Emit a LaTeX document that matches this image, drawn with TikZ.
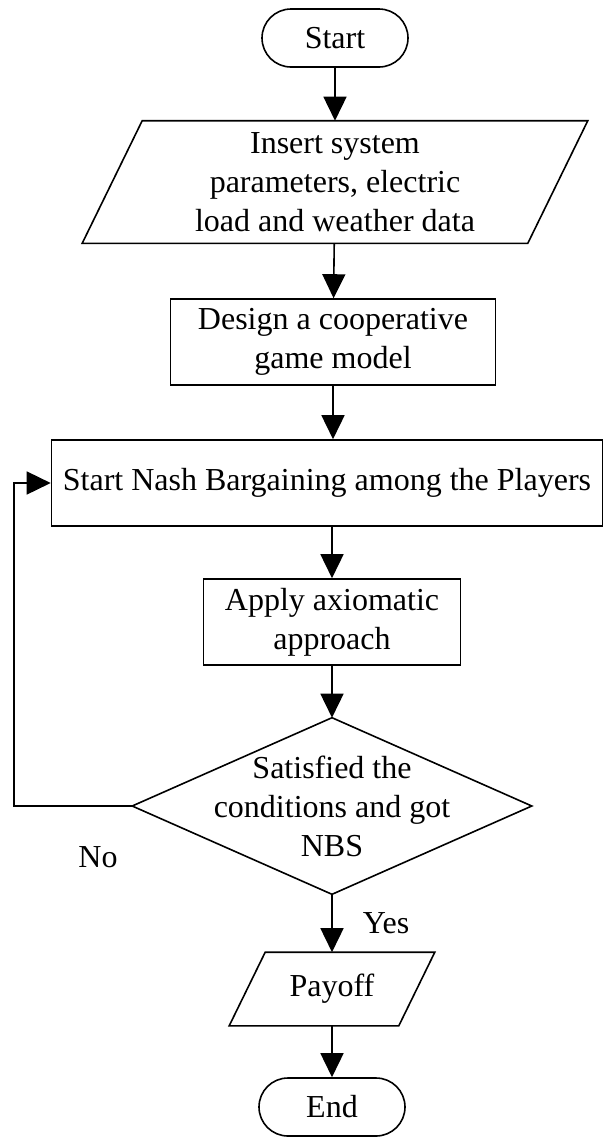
\documentclass[tikz,border=0pt]{standalone}
\usepackage{fontspec}
\setmainfont{Liberation Serif}
\usetikzlibrary{arrows.meta,calc}

\begin{document}
\begin{tikzpicture}[x=1pt, y=-1pt, line width=1.6pt,
  every node/.style={font=\fontsize{32}{39}\selectfont, align=center, inner sep=0pt},
  term/.style={draw, rounded corners=29pt, minimum width=146pt, minimum height=58pt},
  proc/.style={draw, minimum height=86pt},
  flow/.style={-{Triangle[length=24pt,width=23pt]}}]
  \useasboundingbox (0,0) rectangle (603,1144);
  % 开始、数据输入（平行四边形）
  \node[term] (start) at (335,38) {Start};
  \node[minimum width=444pt, minimum height=121pt] (data) at (335,182)
    {Insert system\\parameters, electric\\load and weather data};
  \draw ($(data.south west)+(-30,0)$) -- ($(data.south east)+(-30,0)$)
    -- ($(data.north east)+(30,0)$) -- ($(data.north west)+(30,0)$) -- cycle;
  % 处理框
  \node[proc, minimum width=325pt] (design) at (333,342) {Design a cooperative\\game model};
  \node[proc, minimum width=551pt] (nash) at (327,483) {Start Nash Bargaining among the Players};
  \node[proc, minimum width=257pt] (apply) at (332,622) {Apply axiomatic\\approach};
  % 判断（菱形）
  \node[minimum width=398pt, minimum height=175pt] (cond) at (332,806)
    {Satisfied the\\conditions and got\\NBS};
  \draw (cond.north) -- (cond.east) -- (cond.south) -- (cond.west) -- cycle;
  % 输出与结束
  \node[minimum width=168pt, minimum height=72pt] (pay) at (332,989) {Payoff};
  \draw ($(pay.south west)+(-18,0)$) -- ($(pay.south east)+(-18,0)$)
    -- ($(pay.north east)+(18,0)$) -- ($(pay.north west)+(18,0)$) -- cycle;
  \node[term] (end) at (332,1107) {End};
  % 连线
  \draw[flow] (start) -- (data);
  \draw[flow] (data) -- (design);
  \draw[flow] (design) -- (nash.north -| design);
  \draw[flow] (nash.south -| apply) -- (apply);
  \draw[flow] (apply) -- (cond);
  \draw[flow] (cond) -- (pay);
  \draw[flow] (pay) -- (end);
  \draw[flow] (cond.west) -- ++(-118,0) |- (nash.west);
  \node (no) at (98,857) {No};
  \node[anchor=west] (yes) at (362,923) {Yes};
\end{tikzpicture}
\end{document}
